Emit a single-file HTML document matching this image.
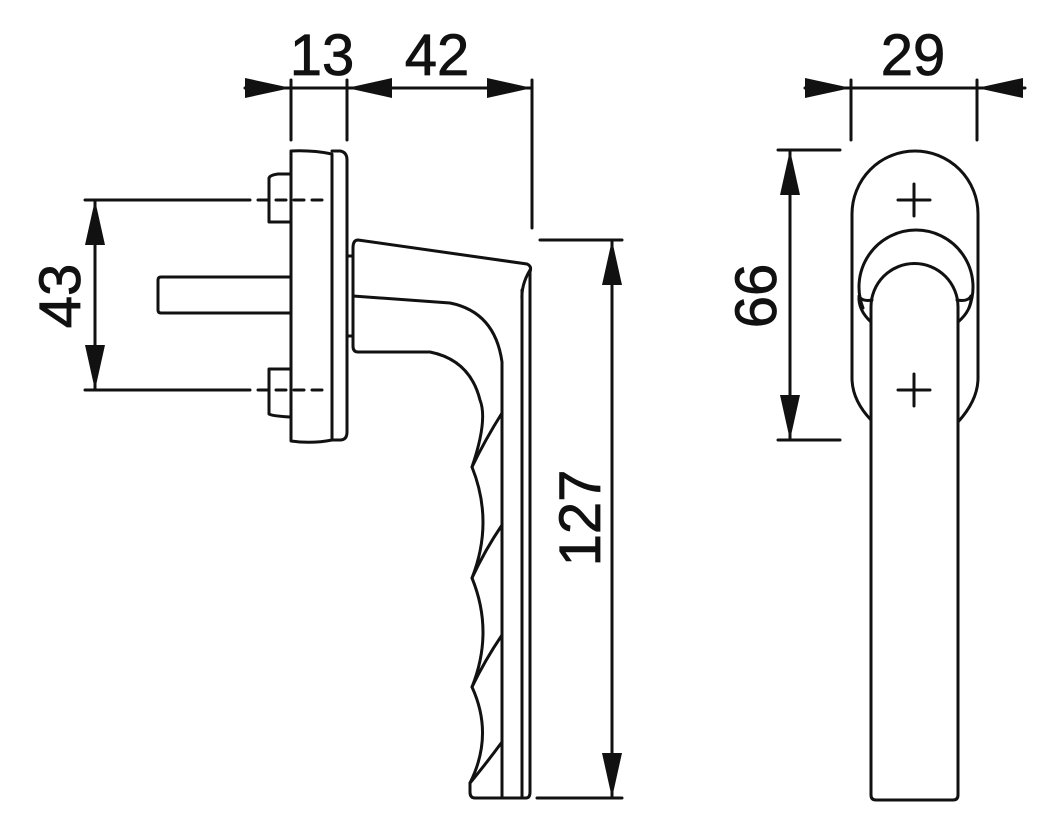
<!DOCTYPE html>
<html><head><meta charset="utf-8"><style>html,body{margin:0;padding:0;background:#fff}svg{display:block}</style></head>
<body>
<svg width="1063" height="832" viewBox="0 0 1063 832" xmlns="http://www.w3.org/2000/svg">
<g fill="none" stroke="#111" stroke-width="3" stroke-linejoin="round" stroke-linecap="round">
<line x1="245" y1="88" x2="532" y2="88"/>
<line x1="291" y1="80" x2="291" y2="140"/>
<line x1="347" y1="80" x2="347" y2="140"/>
<line x1="532" y1="80" x2="532" y2="228"/>
<line x1="95" y1="200" x2="95" y2="390"/>
<line x1="85" y1="200" x2="250" y2="200"/>
<line x1="85" y1="390" x2="250" y2="390"/>
<line x1="258" y1="200" x2="330" y2="200" stroke-dasharray="10,8"/>
<line x1="258" y1="390" x2="330" y2="390" stroke-dasharray="10,8"/>
<line x1="612" y1="240" x2="612" y2="798"/>
<line x1="540" y1="240" x2="622" y2="240"/>
<line x1="537" y1="798" x2="622" y2="798"/>
<path d="M291,151 Q312,150 332,154 L332,440 Q312,444 291,441 Z"/>
<path d="M332,151 L340,151 Q347,152 347,160 L347,432 Q347,440 340,440 L332,440"/>
<path d="M290,174 L278,174 Q270,175 269,178 L269,222 L290,222"/>
<path d="M290,369 L269,369 L269,414 Q272,416 290,417"/>
<path d="M290,277 L161,277 Q158,277 158,280 L158,310 Q158,313 161,313 L290,313"/>
<path d="M347,256 L353,256 L353,336 L347,336"/>
<path d="M353,248 Q353,240 358,240 L527,264 Q532,266 530,272 L530,792 Q530,798 526,798 L475,798 Q470,798 470,792 L470,783 Q494,735 472,687 Q494,632 472,578 Q494,522 472,467 Q488,420 480,400 Q470,360 430,352 L358,352 Q353,352 353,346 Z"/>
<path d="M353,296 L450,303 Q495,312 502,362 L502,798"/>
<line x1="522" y1="290" x2="522" y2="798"/>
<path d="M530,270 Q521,285 522,300"/>
<path d="M472,467 Q485,440 502,413"/>
<path d="M472,578 Q485,550 502,525"/>
<path d="M472,687 Q485,660 502,635"/>
<path d="M470,783 Q485,765 502,742"/>
<line x1="805" y1="88" x2="1025" y2="88"/>
<line x1="851" y1="80" x2="851" y2="140"/>
<line x1="977" y1="80" x2="977" y2="140"/>
<line x1="790" y1="150" x2="790" y2="440"/>
<line x1="778" y1="150" x2="840" y2="150"/>
<line x1="778" y1="440" x2="840" y2="440"/>
<path d="M871,420 Q852,400 852,378 L852,214 A63,63 0 0 1 978,214 L978,378 Q978,400 958,422"/>
<path d="M863,308 A57,57 0 1 1 969,308"/>
<path d="M871,795 L871,307 A43.5,43.5 0 0 1 958,307 L958,795 Q958,800 953,800 L876,800 Q871,800 871,795"/>
<path d="M859,296 Q858,310 871,322 M872,300 Q862,302 859,296"/>
<path d="M971,296 Q972,310 958,322 M957,300 Q968,302 971,296"/>
<path d="M898,200 L930,200 M914,184 L914,216"/>
<path d="M898,390 L930,390 M914,374 L914,406"/>
</g>
<g fill="#111">
<polygon points="245,78 291,88 245,98"/>
<polygon points="392,78 347,88 392,98"/>
<polygon points="487,78 532,88 487,98"/>
<polygon points="85,245 95,200 105,245"/>
<polygon points="85,345 95,390 105,345"/>
<polygon points="602,285 612,240 622,285"/>
<polygon points="602,753 612,798 622,753"/>
<polygon points="805,78 851,88 805,98"/>
<polygon points="1023,78 977,88 1023,98"/>
<polygon points="780,195 790,150 800,195"/>
<polygon points="780,395 790,440 800,395"/>
</g>
<g font-family="Liberation Sans, sans-serif" font-size="58" fill="#111" text-anchor="middle" stroke="#111" stroke-width="0.8">
<text x="322" y="75">13</text>
<text x="437" y="75">42</text>
<text x="913" y="75">29</text>
<text transform="translate(80,296) rotate(-90)">43</text>
<text transform="translate(600,518) rotate(-90)">127</text>
<text transform="translate(776,296) rotate(-90)">66</text>
</g>
</svg>
</body></html>
